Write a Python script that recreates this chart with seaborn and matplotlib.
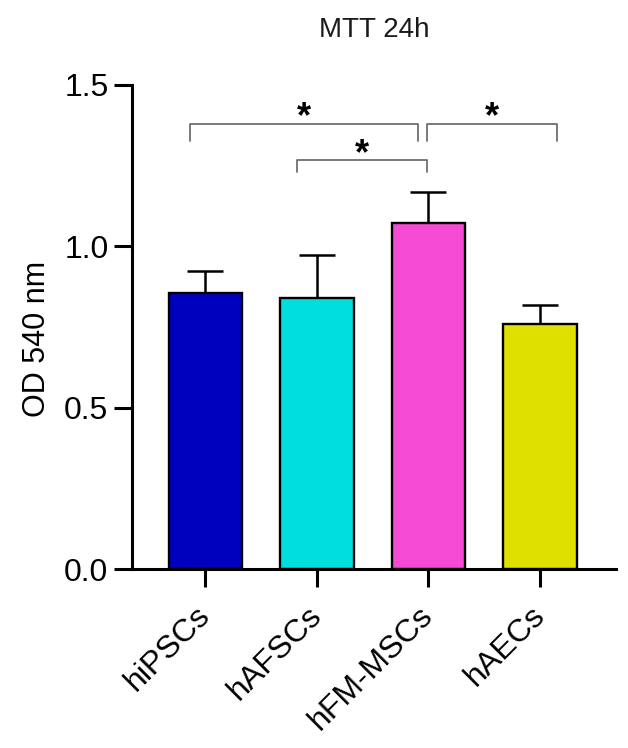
import matplotlib
matplotlib.use("Agg")
import matplotlib.pyplot as plt
import seaborn as sns
import pandas as pd

# data
cells = ["hiPSCs", "hAFSCs", "hFM-MSCs", "hAECs"]
od_mean = [0.856, 0.840, 1.072, 0.760]
od_sd = [0.069, 0.133, 0.096, 0.059]
bar_colors = ["#0000BF", "#00DEDE", "#F54BD4", "#E0E000"]
y_ticks = [0.0, 0.5, 1.0, 1.5]

# significance brackets: x start, x end (category units), bracket height, leg drop
br_start = [-0.14, 0.82, 1.985]
br_end = [1.91, 1.985, 3.15]
br_height = [1.38, 1.267, 1.38]
br_drop = [0.054, 0.036, 0.054]
br_label = ["*", "*", "*"]

sns.set_theme(style="white")
plt.rcParams['font.family'] = ['Liberation Sans', 'DejaVu Sans']

df = pd.DataFrame({"cell": cells, "od": od_mean, "sd": od_sd})

fig = plt.figure(figsize=(6.28, 7.48), dpi=100)
ax = fig.add_axes([0.2102, 0.2393, 0.7702, 0.6471])

sns.barplot(data=df, x="cell", y="od", hue="cell", palette=bar_colors, legend=False,
            width=0.657, edgecolor="black", linewidth=1.7, saturation=1,
            errorbar=None, ax=ax)
# upper-only SD bars
ax.errorbar(range(len(cells)), df["od"], yerr=[[0] * len(cells), df["sd"]], fmt="none",
            ecolor="black", elinewidth=1.8, capsize=13, capthick=1.8, zorder=0.5)

# brackets + stars
for x1, x2, h, d, lab in zip(br_start, br_end, br_height, br_drop, br_label):
    ax.plot([x1, x1, x2, x2], [h - d, h, h, h - d], color="#6E6E6E", lw=1.3,
            solid_joinstyle="round", clip_on=False)
    ax.text((x1 + x2) / 2, h - 0.012, lab, ha="center", va="baseline", fontsize=26,
            fontweight="bold", color="black", clip_on=False)

ax.set_ylim(0, 1.5)
ax.set_xlim(-0.657, 3.678)
ax.set_yticks(y_ticks)
ax.set_yticklabels([f"{v:.1f}" for v in y_ticks])
ax.set_xlabel("")
ax.set_ylabel("OD 540 nm", fontsize=22, color="black")
ax.yaxis.set_label_coords(-0.165, 0.476)

ax.tick_params(axis="both", direction="out", length=13, width=2.2, color="black",
               labelsize=23, labelcolor="black", bottom=True, left=True)
ax.tick_params(axis="y", pad=4)
ax.tick_params(axis="x", pad=17)
plt.setp(ax.get_xticklabels(), rotation=45, ha="right", va="center", rotation_mode="anchor")

sns.despine(ax=ax)
for side in ["left", "bottom"]:
    ax.spines[side].set_linewidth(2.2)
    ax.spines[side].set_color("black")

fig.text(374 / 628, 1 - 36.7 / 748, "MTT 24h", ha="center", va="baseline",
         fontsize=20, color="#1a1a1a")

fig.savefig("out.png", dpi=100)
